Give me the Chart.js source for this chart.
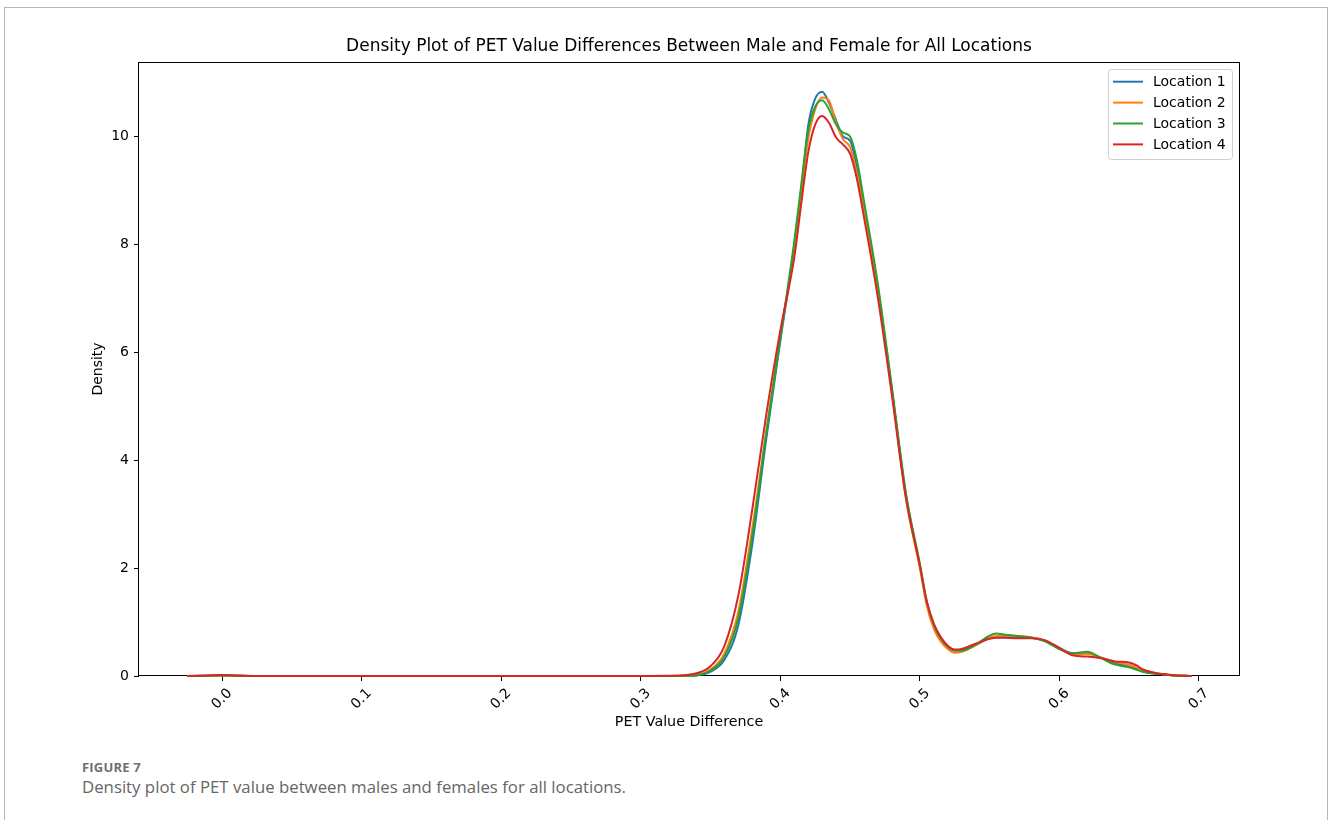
<!DOCTYPE html>
<html>
<head>
<meta charset="utf-8">
<script src="https://cdn.jsdelivr.net/npm/chart.js@4.4.1/dist/chart.umd.min.js"></script>
<style>
  html, body { margin: 0; padding: 0; background: #fff; overflow: hidden; }
  body { width: 1328px; height: 820px; position: relative; }
  #frame { position: absolute; left: 4px; top: 7px; width: 1322px; height: 900px; border: 1px solid #b5b5b5; }
  #wrap { position: absolute; left: 0; top: 0; width: 1328px; height: 740px; }
  .fig-label { position: absolute; left: 82px; top: 759px; font: bold 13px "Open Sans", sans-serif; color: #707070; line-height: 16px; letter-spacing: 0.2px; }
  .fig-caption { position: absolute; left: 82px; top: 776px; font: 16.8px "Open Sans", sans-serif; color: #666; line-height: 22px; }
</style>
</head>
<body>
<div id="frame"></div>
<div id="wrap"><canvas id="densityChart" width="1328" height="740"></canvas></div>
<div class="fig-label">FIGURE 7</div>
<div class="fig-caption">Density plot of PET value between males and females for all locations.</div>

<script>
// x positions of the KDE evaluation
const xGrid = [-0.025, -0.01, 0.0, 0.01, 0.025, 0.1, 0.2, 0.3, 0.32, 0.33,
  0.34, 0.35, 0.36, 0.37, 0.38, 0.39, 0.40, 0.41, 0.415, 0.42,
  0.425, 0.43, 0.435, 0.44, 0.445, 0.45, 0.455, 0.46, 0.47, 0.48,
  0.49, 0.50, 0.505, 0.51, 0.515, 0.52, 0.525, 0.53, 0.54, 0.55,
  0.555, 0.56, 0.57, 0.58, 0.59, 0.60, 0.61, 0.62, 0.63, 0.64,
  0.65, 0.655, 0.66, 0.67, 0.68, 0.69, 0.695];

// Density values per location
const location1 = [0, 0.005, 0.01, 0.005, 0, 0, 0, 0, 0, 0.002,
  0.01, 0.08, 0.3, 0.95, 2.45, 4.4, 6.2, 7.95, 9.0, 10.2,
  10.7, 10.83, 10.62, 10.3, 10.0, 9.92, 9.4, 8.65, 7.15, 5.3,
  3.35, 2.05, 1.35, 0.93, 0.68, 0.53, 0.47, 0.48, 0.58, 0.7,
  0.72, 0.72, 0.72, 0.71, 0.65, 0.52, 0.42, 0.42, 0.34, 0.24,
  0.17, 0.13, 0.08, 0.04, 0.015, 0.004, 0.001];
const location2 = [0, 0.005, 0.01, 0.005, 0, 0, 0, 0, 0, 0.003,
  0.02, 0.12, 0.42, 1.2, 2.75, 4.55, 6.3, 7.95, 8.95, 9.95,
  10.5, 10.72, 10.66, 10.25, 9.95, 9.8, 9.3, 8.6, 7.1, 5.28,
  3.3, 2.0, 1.3, 0.88, 0.64, 0.5, 0.43, 0.45, 0.57, 0.71,
  0.74, 0.75, 0.74, 0.72, 0.65, 0.5, 0.4, 0.41, 0.34, 0.26,
  0.21, 0.16, 0.11, 0.05, 0.02, 0.005, 0.001];
const location3 = [0, 0.005, 0.01, 0.005, 0, 0, 0, 0, 0, 0.002,
  0.015, 0.1, 0.36, 1.08, 2.6, 4.5, 6.25, 8.05, 9.1, 10.1,
  10.55, 10.67, 10.5, 10.22, 10.07, 10.0, 9.55, 8.8, 7.25, 5.35,
  3.4, 2.08, 1.38, 0.95, 0.7, 0.55, 0.48, 0.47, 0.58, 0.75,
  0.79, 0.77, 0.74, 0.71, 0.64, 0.5, 0.42, 0.45, 0.33, 0.21,
  0.16, 0.12, 0.08, 0.04, 0.015, 0.004, 0.001];
const location4 = [0.002, 0.01, 0.02, 0.01, 0.002, 0, 0, 0.002, 0.004, 0.012,
  0.05, 0.18, 0.56, 1.5, 3.1, 4.85, 6.4, 7.75, 8.75, 9.7,
  10.22, 10.38, 10.25, 9.98, 9.85, 9.68, 9.2, 8.5, 7.0, 5.2,
  3.3, 2.05, 1.38, 0.97, 0.72, 0.56, 0.49, 0.5, 0.6, 0.69,
  0.71, 0.71, 0.7, 0.7, 0.66, 0.52, 0.38, 0.36, 0.33, 0.27,
  0.25, 0.2, 0.12, 0.05, 0.02, 0.005, 0.001];

const seriesNames = ['Location 1', 'Location 2', 'Location 3', 'Location 4'];
const seriesColors = ['#1f77b4', '#ff7f0e', '#2ca02c', '#d62728'];
const xTicks = [0.0, 0.1, 0.2, 0.3, 0.4, 0.5, 0.6, 0.7];
const yTicks = [0, 2, 4, 6, 8, 10];

const chartTitle = 'Density Plot of PET Value Differences Between Male and Female for All Locations';
const FONT = "'DejaVu Sans', sans-serif";

Chart.defaults.color = '#000';
Chart.defaults.font.family = FONT;

// Title, frame, rotated x labels and legend drawn like matplotlib
const mplLook = {
  id: 'mplLook',
  beforeDatasetsDraw(chart) {
    const { ctx, chartArea: a } = chart;
    ctx.save();
    ctx.strokeStyle = '#000';
    ctx.lineWidth = 1;
    ctx.strokeRect(Math.round(a.left) - 0.5, Math.round(a.top) + 0.5,
      Math.round(a.right - a.left) + 1, Math.round(a.bottom - a.top) - 1);
    ctx.restore();
  },
  afterDraw(chart) {
    const { ctx, chartArea: a } = chart;
    const xScale = chart.scales.x;
    ctx.save();

    // title
    ctx.fillStyle = '#000';
    ctx.font = '17px ' + FONT;
    ctx.textAlign = 'center';
    ctx.textBaseline = 'middle';
    ctx.fillText(chartTitle, (a.left + a.right) / 2, 47);

    // x tick labels, 45 degrees, centred under the tick
    ctx.font = '14px ' + FONT;
    xScale.ticks.forEach(t => {
      const px = xScale.getPixelForValue(t.value);
      ctx.save();
      ctx.translate(px, a.bottom + 23);
      ctx.rotate(-Math.PI / 4);
      ctx.fillText(t.value.toFixed(1), 0, 0);
      ctx.restore();
    });

    // legend box
    const bx = 1108.5, by = 69.5, bw = 124, bh = 90, r = 3;
    ctx.beginPath();
    ctx.moveTo(bx + r, by);
    ctx.arcTo(bx + bw, by, bx + bw, by + bh, r);
    ctx.arcTo(bx + bw, by + bh, bx, by + bh, r);
    ctx.arcTo(bx, by + bh, bx, by, r);
    ctx.arcTo(bx, by, bx + bw, by, r);
    ctx.closePath();
    ctx.fillStyle = 'rgba(255,255,255,0.8)';
    ctx.fill();
    ctx.strokeStyle = '#d0d0d0';
    ctx.lineWidth = 1;
    ctx.stroke();

    ctx.textAlign = 'left';
    chart.data.datasets.forEach((ds, i) => {
      const ly = 81.7 + i * 20.9;
      ctx.strokeStyle = ds.borderColor;
      ctx.lineWidth = 2;
      ctx.beginPath();
      ctx.moveTo(1113, ly);
      ctx.lineTo(1143, ly);
      ctx.stroke();
      ctx.fillStyle = '#000';
      ctx.fillText(ds.label, 1153, ly + 0.5);
    });
    ctx.restore();
  }
};

const datasets = [location1, location2, location3, location4].map((vals, i) => ({
  label: seriesNames[i],
  data: xGrid.map((x, j) => ({ x: x, y: vals[j] })),
  borderColor: seriesColors[i],
  backgroundColor: seriesColors[i],
  borderWidth: 2,
  pointRadius: 0,
  fill: false,
  cubicInterpolationMode: 'monotone',
  clip: 4,
  order: 3 - i
}));

new Chart(document.getElementById('densityChart'), {
  type: 'line',
  data: { datasets: datasets },
  options: {
    responsive: false,
    animation: false,
    layout: { padding: { top: 62, left: 0, right: 89, bottom: 0 } },
    plugins: {
      legend: { display: false },
      title: { display: false },
      tooltip: { enabled: false }
    },
    scales: {
      x: {
        type: 'linear',
        min: -0.0595,
        max: 0.7287,
        afterFit: s => { s.height = 64; },
        afterBuildTicks: s => { s.ticks = xTicks.map(v => ({ value: v })); },
        ticks: { color: 'rgba(0,0,0,0)', maxRotation: 0, minRotation: 0, includeBounds: false },
        grid: { drawOnChartArea: false, drawTicks: true, tickLength: 5, color: '#000', tickColor: '#000' },
        border: { display: false },
        title: {
          display: true,
          text: 'PET Value Difference',
          font: { size: 14.3, family: FONT },
          color: '#000',
          padding: { top: 0, bottom: 9 }
        }
      },
      y: {
        min: 0,
        max: 11.38,
        afterFit: s => { s.width = 139; },
        afterBuildTicks: s => { s.ticks = yTicks.map(v => ({ value: v })); },
        ticks: { font: { size: 14, family: FONT }, color: '#000', padding: 5 },
        grid: { drawOnChartArea: false, drawTicks: true, tickLength: 5, color: '#000', tickColor: '#000' },
        border: { display: false },
        title: {
          display: true,
          text: 'Density',
          font: { size: 14, family: FONT },
          color: '#000',
          padding: { top: 90, bottom: 0 }
        }
      }
    }
  },
  plugins: [mplLook]
});
</script>
</body>
</html>
